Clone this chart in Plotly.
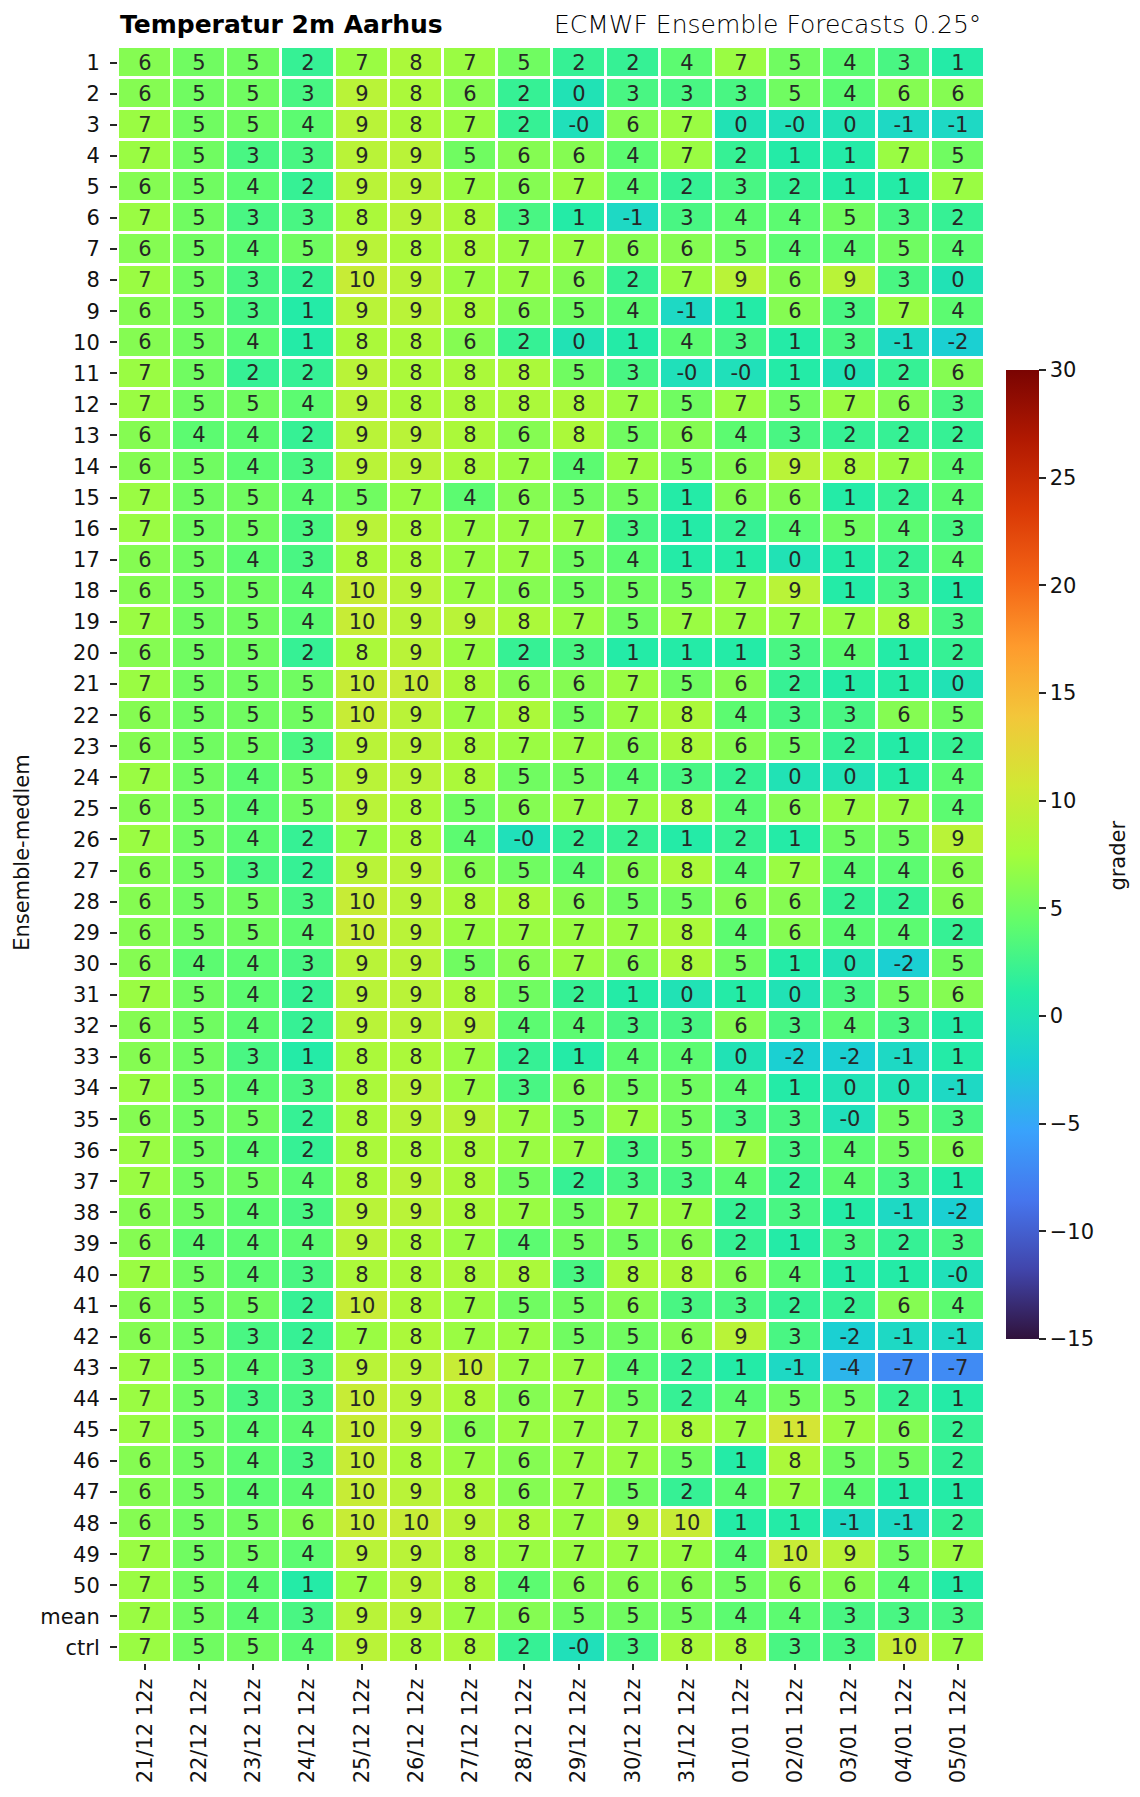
import plotly.graph_objects as go
import plotly.colors as pc

# ---------------- data ----------------
dates = ["21/12 12z", "22/12 12z", "23/12 12z", "24/12 12z", "25/12 12z", "26/12 12z",
         "27/12 12z", "28/12 12z", "29/12 12z", "30/12 12z", "31/12 12z", "01/01 12z",
         "02/01 12z", "03/01 12z", "04/01 12z", "05/01 12z"]

member_labels = [str(i) for i in range(1, 51)] + ["mean", "ctrl"]

# "-0" in the picture is stored as a small negative number
members = [
    [6, 5, 5, 2, 7, 8, 7, 5, 2, 2, 4, 7, 5, 4, 3, 1],
    [6, 5, 5, 3, 9, 8, 6, 2, 0, 3, 3, 3, 5, 4, 6, 6],
    [7, 5, 5, 4, 9, 8, 7, 2, -0.3, 6, 7, 0, -0.3, 0, -1, -1],
    [7, 5, 3, 3, 9, 9, 5, 6, 6, 4, 7, 2, 1, 1, 7, 5],
    [6, 5, 4, 2, 9, 9, 7, 6, 7, 4, 2, 3, 2, 1, 1, 7],
    [7, 5, 3, 3, 8, 9, 8, 3, 1, -1, 3, 4, 4, 5, 3, 2],
    [6, 5, 4, 5, 9, 8, 8, 7, 7, 6, 6, 5, 4, 4, 5, 4],
    [7, 5, 3, 2, 10, 9, 7, 7, 6, 2, 7, 9, 6, 9, 3, 0],
    [6, 5, 3, 1, 9, 9, 8, 6, 5, 4, -1, 1, 6, 3, 7, 4],
    [6, 5, 4, 1, 8, 8, 6, 2, 0, 1, 4, 3, 1, 3, -1, -2],
    [7, 5, 2, 2, 9, 8, 8, 8, 5, 3, -0.3, -0.3, 1, 0, 2, 6],
    [7, 5, 5, 4, 9, 8, 8, 8, 8, 7, 5, 7, 5, 7, 6, 3],
    [6, 4, 4, 2, 9, 9, 8, 6, 8, 5, 6, 4, 3, 2, 2, 2],
    [6, 5, 4, 3, 9, 9, 8, 7, 4, 7, 5, 6, 9, 8, 7, 4],
    [7, 5, 5, 4, 5, 7, 4, 6, 5, 5, 1, 6, 6, 1, 2, 4],
    [7, 5, 5, 3, 9, 8, 7, 7, 7, 3, 1, 2, 4, 5, 4, 3],
    [6, 5, 4, 3, 8, 8, 7, 7, 5, 4, 1, 1, 0, 1, 2, 4],
    [6, 5, 5, 4, 10, 9, 7, 6, 5, 5, 5, 7, 9, 1, 3, 1],
    [7, 5, 5, 4, 10, 9, 9, 8, 7, 5, 7, 7, 7, 7, 8, 3],
    [6, 5, 5, 2, 8, 9, 7, 2, 3, 1, 1, 1, 3, 4, 1, 2],
    [7, 5, 5, 5, 10, 10, 8, 6, 6, 7, 5, 6, 2, 1, 1, 0],
    [6, 5, 5, 5, 10, 9, 7, 8, 5, 7, 8, 4, 3, 3, 6, 5],
    [6, 5, 5, 3, 9, 9, 8, 7, 7, 6, 8, 6, 5, 2, 1, 2],
    [7, 5, 4, 5, 9, 9, 8, 5, 5, 4, 3, 2, 0, 0, 1, 4],
    [6, 5, 4, 5, 9, 8, 5, 6, 7, 7, 8, 4, 6, 7, 7, 4],
    [7, 5, 4, 2, 7, 8, 4, -0.3, 2, 2, 1, 2, 1, 5, 5, 9],
    [6, 5, 3, 2, 9, 9, 6, 5, 4, 6, 8, 4, 7, 4, 4, 6],
    [6, 5, 5, 3, 10, 9, 8, 8, 6, 5, 5, 6, 6, 2, 2, 6],
    [6, 5, 5, 4, 10, 9, 7, 7, 7, 7, 8, 4, 6, 4, 4, 2],
    [6, 4, 4, 3, 9, 9, 5, 6, 7, 6, 8, 5, 1, 0, -2, 5],
    [7, 5, 4, 2, 9, 9, 8, 5, 2, 1, 0, 1, 0, 3, 5, 6],
    [6, 5, 4, 2, 9, 9, 9, 4, 4, 3, 3, 6, 3, 4, 3, 1],
    [6, 5, 3, 1, 8, 8, 7, 2, 1, 4, 4, 0, -2, -2, -1, 1],
    [7, 5, 4, 3, 8, 9, 7, 3, 6, 5, 5, 4, 1, 0, 0, -1],
    [6, 5, 5, 2, 8, 9, 9, 7, 5, 7, 5, 3, 3, -0.3, 5, 3],
    [7, 5, 4, 2, 8, 8, 8, 7, 7, 3, 5, 7, 3, 4, 5, 6],
    [7, 5, 5, 4, 8, 9, 8, 5, 2, 3, 3, 4, 2, 4, 3, 1],
    [6, 5, 4, 3, 9, 9, 8, 7, 5, 7, 7, 2, 3, 1, -1, -2],
    [6, 4, 4, 4, 9, 8, 7, 4, 5, 5, 6, 2, 1, 3, 2, 3],
    [7, 5, 4, 3, 8, 8, 8, 8, 3, 8, 8, 6, 4, 1, 1, -0.3],
    [6, 5, 5, 2, 10, 8, 7, 5, 5, 6, 3, 3, 2, 2, 6, 4],
    [6, 5, 3, 2, 7, 8, 7, 7, 5, 5, 6, 9, 3, -2, -1, -1],
    [7, 5, 4, 3, 9, 9, 10, 7, 7, 4, 2, 1, -1, -4, -7, -7],
    [7, 5, 3, 3, 10, 9, 8, 6, 7, 5, 2, 4, 5, 5, 2, 1],
    [7, 5, 4, 4, 10, 9, 6, 7, 7, 7, 8, 7, 11, 7, 6, 2],
    [6, 5, 4, 3, 10, 8, 7, 6, 7, 7, 5, 1, 8, 5, 5, 2],
    [6, 5, 4, 4, 10, 9, 8, 6, 7, 5, 2, 4, 7, 4, 1, 1],
    [6, 5, 5, 6, 10, 10, 9, 8, 7, 9, 10, 1, 1, -1, -1, 2],
    [7, 5, 5, 4, 9, 9, 8, 7, 7, 7, 7, 4, 10, 9, 5, 7],
    [7, 5, 4, 1, 7, 9, 8, 4, 6, 6, 6, 5, 6, 6, 4, 1],
]
ens_mean = [7, 5, 4, 3, 9, 9, 7, 6, 5, 5, 5, 4, 4, 3, 3, 3]
ctrl = [7, 5, 5, 4, 9, 8, 8, 2, -0.3, 3, 8, 8, 3, 3, 10, 7]

zmin, zmax = -15, 30
cbar_ticks = [-15, -10, -5, 0, 5, 10, 15, 20, 25, 30]

title_left = "Temperatur 2m Aarhus"
title_right = "ECMWF Ensemble Forecasts 0.25°"
ylabel = "Ensemble-medlem"
cbar_label = "grader"

# ---------------- figure ----------------
z = members + [ens_mean, ctrl]
text = [[f"{v:.0f}" for v in row] for row in z]

turbo = pc.sequential.Turbo
colorscale = [[i / (len(turbo) - 1), c] for i, c in enumerate(turbo)]

W, H = 1140, 1797
L, R, T, B = 117.5, 1140 - 985.5, 46.5, 1797 - 1663
pw, ph = W - L - R, H - T - B

FONT = "DejaVu Sans"
TXT = "#262626"

cb_top, cb_bot = 370, 1339

fig = go.Figure(go.Heatmap(
    z=z, x=dates, y=member_labels,
    text=text, texttemplate="%{text}",
    textfont=dict(family=FONT, size=21, color=TXT),
    colorscale=colorscale, zmin=zmin, zmax=zmax,
    xgap=3, ygap=3, hoverinfo="skip",
    colorbar=dict(
        xref="container", x=1006 / W, xanchor="left", xpad=0,
        yref="paper", y=(H - B - cb_bot) / ph, yanchor="bottom", ypad=0,
        lenmode="pixels", len=cb_bot - cb_top, thickness=33,
        outlinewidth=0,
        tickmode="array", tickvals=cbar_ticks,
        ticks="outside", ticklen=7, tickwidth=1.5, tickcolor=TXT,
        tickfont=dict(family=FONT, size=21, color="#111"),
    ),
))

fig.update_layout(
    width=W, height=H,
    margin=dict(l=L, r=R, t=T, b=B, autoexpand=False),
    paper_bgcolor="white", plot_bgcolor="white",
    font=dict(family=FONT, size=21, color="#111"),
    xaxis=dict(
        type="category", tickangle=-90, ticks="outside", ticklen=6, tickwidth=1.5,
        tickcolor=TXT, showgrid=False, zeroline=False, showline=False,
        tickfont=dict(family=FONT, size=21, color="#111"),
    ),
    yaxis=dict(
        type="category", categoryorder="array", categoryarray=member_labels,
        autorange="reversed", ticks="outside", ticklen=7, tickwidth=1.5,
        tickcolor=TXT, showgrid=False, zeroline=False, showline=False,
        ticklabelstandoff=6,
        tickfont=dict(family=FONT, size=21, color="#111"),
    ),
    annotations=[
        dict(text=f"<b>{title_left}</b>", xref="paper", yref="paper",
             x=0, xanchor="left", y=1 + (T - 24) / ph, yanchor="middle",
             showarrow=False, font=dict(family=FONT, size=25, color="black")),
        dict(text=title_right, xref="paper", yref="paper",
             x=1 - 2 / pw, xanchor="right", y=1 + (T - 24) / ph, yanchor="middle",
             showarrow=False,
             font=dict(family="DejaVu Sans ExtraLight, DejaVu Sans", size=25,
                       color="black", weight=200)),
        dict(text=ylabel, xref="paper", yref="paper",
             x=(22 - L) / pw, xanchor="center", y=(H - B - 853) / ph, yanchor="middle",
             textangle=-90, showarrow=False,
             font=dict(family=FONT, size=21, color="#111")),
        dict(text=cbar_label, xref="paper", yref="paper",
             x=(1119 - L) / pw, xanchor="center", y=(H - B - 855) / ph, yanchor="middle",
             textangle=-90, showarrow=False,
             font=dict(family=FONT, size=21, color="#111")),
    ],
)

fig.write_html("out.html", config={"displayModeBar": False},
               post_script="document.body.style.margin='0';")
